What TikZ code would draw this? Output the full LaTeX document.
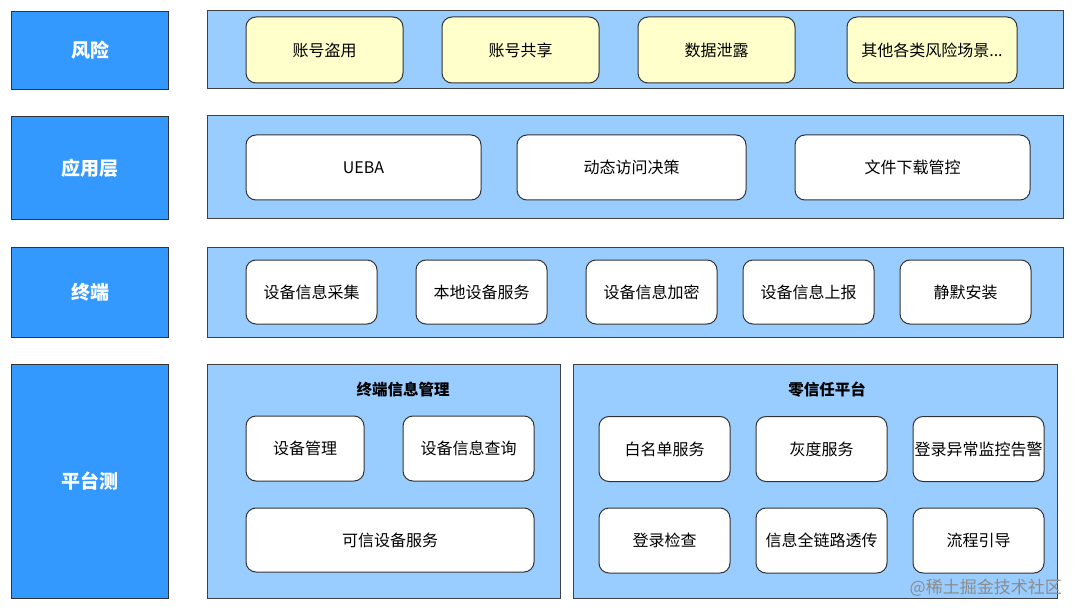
\documentclass[tikz,border=0pt]{standalone}
\usepackage{fontspec}
\setmainfont{Noto Sans CJK SC}
\begin{document}
\begin{tikzpicture}[x=1pt,y=-1pt,
  lbl/.style={draw=black!80,line width=1pt,fill=lblblue,text=white,font=\fontsize{19}{22}\selectfont\bfseries},
  cont/.style={draw=black!75,line width=1pt,fill=contblue},
  ybox/.style={draw=black!80,line width=1pt,fill=boxyellow,rounded corners=10pt,font=\fontsize{16}{19}\selectfont},
  wbox/.style={draw=black!80,line width=1pt,fill=white,rounded corners=10pt,font=\fontsize{16}{19}\selectfont},
  ttl/.style={font=\fontsize{15.5}{18}\selectfont\bfseries}]
\definecolor{lblblue}{RGB}{51,153,255}
\definecolor{contblue}{RGB}{153,204,255}
\definecolor{boxyellow}{RGB}{255,255,204}
\useasboundingbox (0,0) rectangle (1080,615);
\fill[white] (0,0) rectangle (1080,615);
% left labels
\node[lbl,minimum width=157pt,minimum height=78pt,anchor=north west,inner sep=0pt] (l1) at (11,11) {风险};
\node[lbl,minimum width=157pt,minimum height=103pt,anchor=north west,inner sep=0pt] (l2) at (11,116) {应用层};
\node[lbl,minimum width=157pt,minimum height=90pt,anchor=north west,inner sep=0pt] (l3) at (11,247) {终端};
\node[lbl,minimum width=157pt,minimum height=234pt,anchor=north west,inner sep=0pt] (l4) at (11,364) {平台测};
% containers
\draw[cont] (207,11) rectangle (1063,89);
\draw[cont] (207,116) rectangle (1063,219);
\draw[cont] (207,247) rectangle (1063,337);
\draw[cont] (207,364) rectangle (560,598);
\draw[cont] (573,364) rectangle (1057,598);
% row 1
\node[ybox,minimum width=157pt,minimum height=66pt,inner sep=0pt] (r1a) at (324.5,50) {账号盗用};
\node[ybox,minimum width=157pt,minimum height=66pt,inner sep=0pt] (r1b) at (520.5,50) {账号共享};
\node[ybox,minimum width=157pt,minimum height=66pt,inner sep=0pt] (r1c) at (716.5,50) {数据泄露};
\node[ybox,minimum width=170pt,minimum height=66pt,inner sep=0pt] (r1d) at (932,50) {其他各类风险场景...};
% row 2
\node[wbox,minimum width=235pt,minimum height=65pt,inner sep=0pt] (r2a) at (363.5,167.5) {UEBA};
\node[wbox,minimum width=229pt,minimum height=65pt,inner sep=0pt] (r2b) at (631.5,167.5) {动态访问决策};
\node[wbox,minimum width=235pt,minimum height=65pt,inner sep=0pt] (r2c) at (912.5,167.5) {文件下载管控};
% row 3
\node[wbox,minimum width=131pt,minimum height=64pt,inner sep=0pt] (r3a) at (311.5,292) {设备信息采集};
\node[wbox,minimum width=131pt,minimum height=64pt,inner sep=0pt] (r3b) at (481.5,292) {本地设备服务};
\node[wbox,minimum width=131pt,minimum height=64pt,inner sep=0pt] (r3c) at (651.5,292) {设备信息加密};
\node[wbox,minimum width=131pt,minimum height=64pt,inner sep=0pt] (r3d) at (808.5,292) {设备信息上报};
\node[wbox,minimum width=131pt,minimum height=64pt,inner sep=0pt] (r3e) at (965.5,292) {静默安装};
% row 4 left
\node[ttl] (t1) at (403,390) {终端信息管理};
\node[wbox,minimum width=118pt,minimum height=65pt,inner sep=0pt] (p1) at (305,448.5) {设备管理};
\node[wbox,minimum width=131pt,minimum height=65pt,inner sep=0pt] (p2) at (468.5,448.5) {设备信息查询};
\node[wbox,minimum width=288pt,minimum height=64pt,inner sep=0pt] (p3) at (390,540) {可信设备服务};
% row 4 right
\node[ttl] (t2) at (827,390) {零信任平台};
\node[wbox,minimum width=131pt,minimum height=65pt,inner sep=0pt] (q1) at (664.5,449) {白名单服务};
\node[wbox,minimum width=131pt,minimum height=65pt,inner sep=0pt] (q2) at (821.5,449) {灰度服务};
\node[wbox,minimum width=131pt,minimum height=65pt,inner sep=0pt] (q3) at (978.5,449) {登录异常监控告警};
\node[wbox,minimum width=131pt,minimum height=65pt,inner sep=0pt] (q4) at (664.5,540.5) {登录检查};
\node[wbox,minimum width=131pt,minimum height=65pt,inner sep=0pt] (q5) at (821.5,540.5) {信息全链路透传};
\node[wbox,minimum width=131pt,minimum height=65pt,inner sep=0pt] (q6) at (978.5,540.5) {流程引导};
% watermark
\node[text=black!45,font=\fontsize{17}{19}\selectfont,anchor=east,inner sep=0pt] (wm) at (1062,588) {@稀土掘金技术社区};
\end{tikzpicture}
\end{document}
